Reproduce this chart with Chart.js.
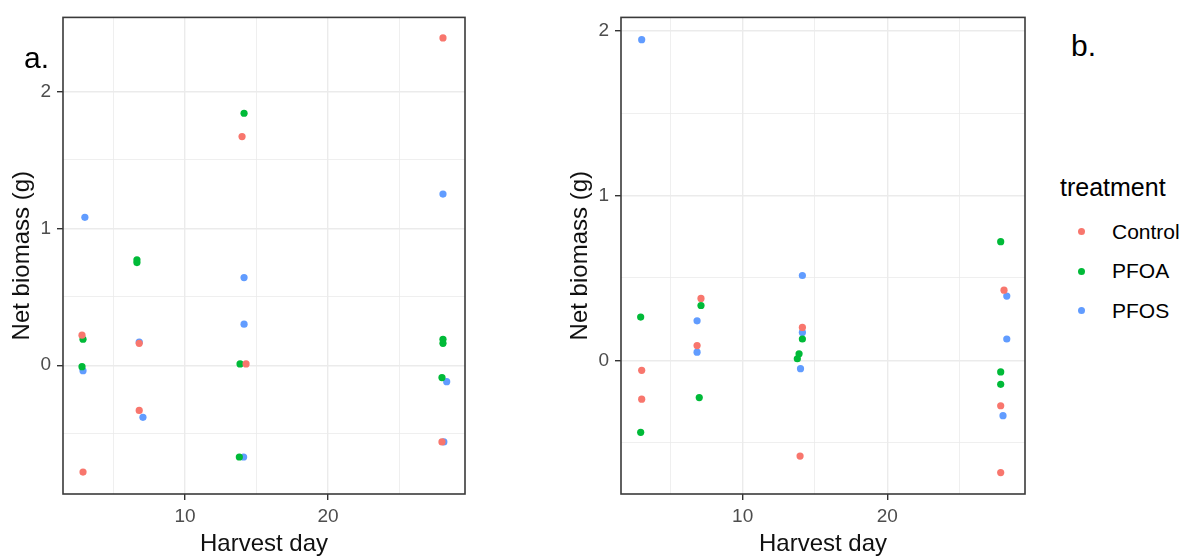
<!DOCTYPE html>
<html>
<head>
<meta charset="utf-8">
<script src="https://cdn.jsdelivr.net/npm/chart.js@4"></script>
<style>
  body { margin:0; background:#fff; width:1188px; height:560px; position:relative; overflow:hidden; font-family:"Liberation Sans", Arial, sans-serif; }
  canvas { position:absolute; top:0; }
  #chartA { left:0; }
  #chartB { left:558px; }
  .panel-tag { position:absolute; font-size:30px; color:#000; line-height:1; }
  #legend { position:absolute; left:1060px; top:172px; color:#000; }
  #legend .title { font-size:25px; line-height:30px; margin-bottom:10px; }
  #legend .item { height:39.5px; display:flex; align-items:center; font-size:21px; }
  #legend .dot { width:7px; height:7px; border-radius:50%; margin-left:18px; margin-right:27px; }
</style>
</head>
<body>
<canvas id="chartA" width="480" height="560"></canvas>
<canvas id="chartB" width="482" height="560"></canvas>
<div class="panel-tag" style="left:24px;top:43px;">a.</div>
<div class="panel-tag" style="left:1071px;top:31px;">b.</div>
<div id="legend"></div>
<script>
// Treatments and colours
const treatments = ['Control', 'PFOA', 'PFOS'];
const colors = ['#F8766D', '#00BA38', '#619CFF'];

// Panel a: [harvest day (jittered), net biomass]
const aControl = [[2.8,0.22],[2.87,-0.78],[6.8,0.16],[6.8,-0.33],[13.99,1.67],[14.27,0.01],[28.04,2.39],[27.97,-0.56]];
const aPFOA = [[2.87,0.19],[2.8,-0.01],[6.64,0.77],[6.64,0.75],[14.13,1.84],[13.85,0.01],[13.8,-0.67],[28.04,0.19],[28.04,0.16],[27.97,-0.09]];
const aPFOS = [[3.0,1.08],[2.87,-0.04],[6.8,0.17],[7.06,-0.38],[14.13,0.64],[14.13,0.30],[14.1,-0.67],[28.04,1.25],[28.3,-0.12],[28.1,-0.56]];

// Panel b
const bControl = [[3.02,-0.06],[3.02,-0.235],[7.12,0.376],[6.85,0.09],[14.13,0.20],[13.97,-0.58],[28.07,0.426],[27.84,-0.275],[27.84,-0.68]];
const bPFOA = [[2.95,0.263],[2.95,-0.436],[7.12,0.333],[7.0,-0.225],[14.13,0.13],[13.9,0.04],[13.78,0.01],[27.84,0.72],[27.84,-0.07],[27.84,-0.145]];
const bPFOS = [[3.02,1.945],[6.85,0.24],[6.85,0.05],[14.13,0.515],[14.13,0.17],[14.0,-0.05],[28.26,0.39],[28.26,0.13],[28.0,-0.335]];

// Tick positions (major ones get labels)
const xTicks = [5, 10, 15, 20, 25];
const xLabels = [10, 20];
const yTicks = [-0.5, 0, 0.5, 1, 1.5, 2];
const yLabels = [0, 1, 2];

// Axis ranges
const aXRange = [1.47, 29.58], aYRange = [-0.94, 2.54];
const bXRange = [1.59, 29.52], bYRange = [-0.81, 2.08];

const FONT = '"Liberation Sans", Arial, sans-serif';

// rahmen um den Plotbereich
const panelBorder = {
  id: 'panelBorder',
  afterDraw(chart) {
    const {ctx, chartArea: a} = chart;
    ctx.save();
    ctx.strokeStyle = '#3a3a3a';
    ctx.lineWidth = 1.6;
    ctx.strokeRect(a.left, a.top, a.right - a.left, a.bottom - a.top);
    ctx.restore();
  }
};

function axis(ticks, labels, range, isX) {
  const isMajor = v => labels.includes(v);
  return {
    type: 'linear',
    min: range[0],
    max: range[1],
    afterBuildTicks: s => { s.ticks = ticks.map(v => ({value: v})); },
    afterFit: s => { if (isX) s.height = 66; else s.width = 63; },
    border: { display: false },
    grid: {
      color: '#EBEBEB',
      lineWidth: c => (c.tick && isMajor(c.tick.value)) ? 1.4 : 0.8,
      tickColor: c => (c.tick && isMajor(c.tick.value)) ? '#333' : 'rgba(0,0,0,0)',
      tickLength: 6,
      tickWidth: 1.4
    },
    ticks: {
      autoSkip: false,
      maxRotation: 0,
      padding: isX ? 5 : 6,
      color: '#4D4D4D',
      font: { size: 19, family: FONT },
      callback: v => isMajor(v) ? String(v) : ''
    },
    title: {
      display: true,
      text: isX ? 'Harvest day' : 'Net biomass (g)',
      color: '#111',
      font: { size: 24, family: FONT },
      padding: isX ? {top: 0, bottom: 1} : {top: 8, bottom: 0}
    }
  };
}

function makeChart(id, series, xRange, yRange, topPad) {
  const datasets = series.map((pts, i) => ({
    label: treatments[i],
    data: pts.map(p => ({x: p[0], y: p[1]})),
    backgroundColor: colors[i],
    borderWidth: 0,
    pointRadius: 3.6,
    pointHoverRadius: 3.6
  }));
  return new Chart(document.getElementById(id), {
    type: 'scatter',
    data: { datasets },
    options: {
      responsive: false,
      animation: false,
      layout: { padding: { top: topPad, right: 15, left: 0, bottom: 0 } },
      plugins: { legend: { display: false }, tooltip: { enabled: false } },
      scales: {
        x: axis(xTicks, xLabels, xRange, true),
        y: axis(yTicks, yLabels, yRange, false)
      }
    },
    plugins: [panelBorder]
  });
}

makeChart('chartA', [aControl, aPFOA, aPFOS], aXRange, aYRange, 12);
makeChart('chartB', [bControl, bPFOA, bPFOS], bXRange, bYRange, 10);

// Legende
const legend = document.getElementById('legend');
legend.innerHTML = '<div class="title">treatment</div>' +
  treatments.map((t, i) => `<div class="item"><span class="dot" style="background:${colors[i]}"></span>${t}</div>`).join('');
</script>
</body>
</html>
